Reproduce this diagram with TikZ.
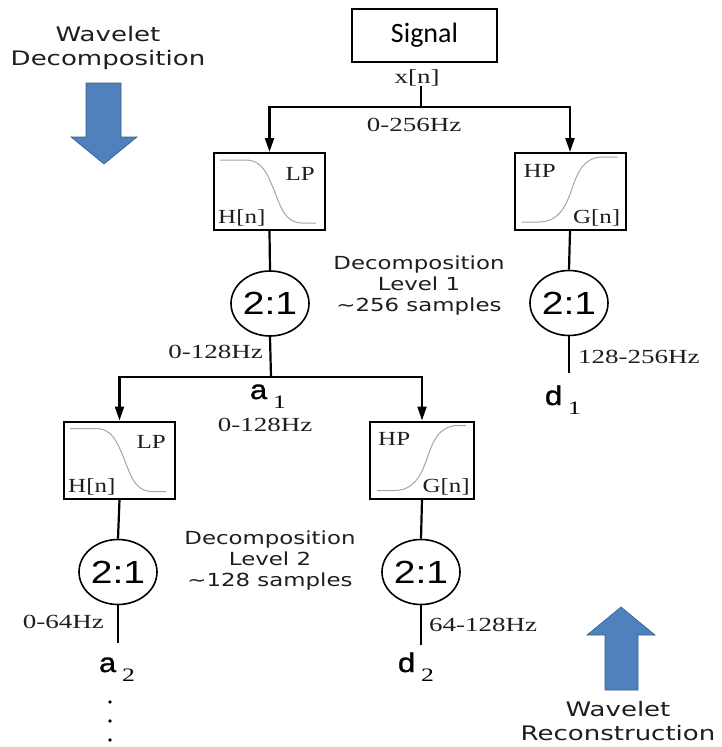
\documentclass[tikz,border=0pt]{standalone}
\usepackage{fontspec}
\usepackage{xcolor}
\usepackage{tikz}
\usetikzlibrary{shapes.geometric, arrows.meta, calc}
\setmainfont{Liberation Serif}
\newfontfamily\sigfont{Carlito}
\newfontfamily\wavefont[FakeStretch=1.3]{DejaVu Sans}
\newfontfamily\levelfont[FakeStretch=1.27]{DejaVu Sans}
\newfontfamily\ratiofont[FakeStretch=1.22]{Liberation Sans}
\newfontfamily\coeffont[FakeStretch=1.15,FakeBold=1.2]{Liberation Sans}
\newfontfamily\hzfont[FakeStretch=1.35]{Liberation Serif}
\newfontfamily\filtfont[FakeStretch=1.25]{Liberation Serif}
\definecolor{WVBlue}{RGB}{79,129,189}
\definecolor{WVBlueEdge}{RGB}{56,93,138}
\definecolor{WVCurve}{RGB}{165,165,165}
\definecolor{WVText}{RGB}{30,30,30}

\newcommand{\wvcoef}[2]{{\coeffont\fontsize{27}{30}\selectfont #1}\hspace{6pt}\raisebox{-9pt}{\hzfont\fontsize{19}{20}\selectfont #2}}

\tikzset{
  sigbox/.style={draw, line width=1.6pt, minimum width=145pt, minimum height=53pt, inner sep=0pt,
    font=\sigfont\fontsize{28}{30}\selectfont},
  filtbox/.style={draw, line width=2pt, minimum width=111pt, minimum height=77pt, inner sep=0pt},
  downsmp/.style={draw, ellipse, line width=1.6pt, minimum width=78pt, minimum height=65pt, inner sep=0pt,
    font=\ratiofont\fontsize{32}{34}\selectfont},
  hzlbl/.style={inner sep=0pt, text=WVText, font=\hzfont\fontsize{20}{22}\selectfont},
  filtlbl/.style={inner sep=0pt, text=WVText, font=\filtfont\fontsize{20}{22}\selectfont},
  levellbl/.style={inner sep=0pt, align=center, text=WVText, font=\levelfont\fontsize{18}{21}\selectfont},
  wavelbl/.style={inner sep=0pt, align=center, text=WVText, font=\wavefont\fontsize{20}{23.5}\selectfont},
  coeflbl/.style={inner sep=0pt, anchor=base},
  wire/.style={line width=2.2pt},
  feed/.style={line width=2.2pt, -{Triangle[length=14pt,width=9pt]}},
  curve/.style={WVCurve, line width=1pt},
  bigarrow/.style={fill=WVBlue, draw=WVBlueEdge, line width=0.6pt}
}

% low pass / high pass response inside a filter box
\newcommand{\lpcurve}[1]{%
  \begin{scope}[shift={(#1.north west)}]
    \draw[curve] (7,8) -- (32,8) .. controls (50,8) and (54,22) .. (61,38)
      .. controls (68,56) and (72,70) .. (88,71) -- (103,71);
  \end{scope}}
\newcommand{\hpcurve}[1]{%
  \begin{scope}[shift={(#1.north west)}]
    \draw[curve] (8,70) -- (25,70) .. controls (45,70) and (52,55) .. (58,38)
      .. controls (64,20) and (70,6) .. (88,5) -- (\pgfkeysvalueof{/wv/hpend},5);
  \end{scope}}
\pgfkeyssetvalue{/wv/hpend}{104}

\begin{document}
\begin{tikzpicture}[x=1pt,y=-1pt]
  \path[use as bounding box] (0,0) rectangle (721,747);

  % big blue arrows
  \draw[bigarrow] (86,83) -- (121,83) -- (121,137) -- (137,137) -- (104,164) -- (71,137) -- (86,137) -- cycle;
  \node[wavelbl] (wavedec) at (108,48) {Wavelet\\Decomposition};
  \draw[bigarrow] (605,690) -- (638,690) -- (638,635) -- (655,635) -- (621,607) -- (587,635) -- (605,635) -- cycle;
  \node[wavelbl] (waverec) at (618,721) {Wavelet\\Reconstruction};

  % input
  \node[sigbox] (sig) at (424.5,35.5) {Signal};
  \node[hzlbl] (xn) at (417,78) {x[n]};
  \coordinate (split0) at (421,107);
  \node[hzlbl] (hz0) at (414,125) {0-256Hz};

  % level 1
  \node[filtbox] (lp1) at (269.5,191.5) {};
  \node[filtbox] (hp1) at (570,191.5) {};
  \lpcurve{lp1}
  \hpcurve{hp1}
  \node[filtlbl, anchor=base east] (lp1t) at ($(lp1.north east)+(-11,28)$) {LP};
  \node[filtlbl, anchor=base west] (lp1h) at ($(lp1.south west)+(5,-7.5)$) {H[n]};
  \node[filtlbl, anchor=base west] (hp1t) at ($(hp1.north west)+(10,25)$) {HP};
  \node[filtlbl, anchor=base east] (hp1g) at ($(hp1.south east)+(-6,-7.5)$) {G[n]};
  \node[downsmp] (ds1) at (270,303.5) {2:1};
  \node[downsmp] (ds2) at (569,303) {2:1};
  \node[levellbl] (lev1) at (419,286) {Decomposition\\Level 1\\\char`\~256 samples};
  \node[hzlbl, anchor=east] (hz1) at (263,352) {0-128Hz};
  \coordinate (split1) at (271,377);
  \node[coeflbl] (a1) at (268,399) {\wvcoef{a}{1}};
  \node[hzlbl] (hz1b) at (265,425) {0-128Hz};
  \coordinate (d1top) at (569,373);
  \node[hzlbl, anchor=west] (hz2) at (578,357) {128-256Hz};
  \node[coeflbl] (d1) at (563,405) {\wvcoef{d}{1}};

  \draw[wire] (xn.south -| split0) -- (split0);
  \draw[feed] (split0) -| (lp1.north);
  \draw[feed] (split0) -| (hp1.north);
  \draw[wire] (lp1.south) -- (ds1.north);
  \draw[wire] (hp1.south) -- (ds2.north);
  \draw[wire] (ds1.south) -- (split1);
  \draw[wire] (ds2.south) -- (d1top);

  % level 2
  \node[filtbox] (lp2) at (119.5,460) {};
  \node[filtbox, minimum width=104pt] (hp2) at (422,460) {};
  \lpcurve{lp2}
  \pgfkeyssetvalue{/wv/hpend}{97}
  \hpcurve{hp2}
  \node[filtlbl, anchor=base east] (lp2t) at ($(lp2.north east)+(-10,28)$) {LP};
  \node[filtlbl, anchor=base west] (lp2h) at ($(lp2.south west)+(5,-7.5)$) {H[n]};
  \node[filtlbl, anchor=base west] (hp2t) at ($(hp2.north west)+(9,25)$) {HP};
  \node[filtlbl, anchor=base east] (hp2g) at ($(hp2.south east)+(-5,-7.5)$) {G[n]};
  \node[downsmp] (ds3) at (118,572) {2:1};
  \node[downsmp] (ds4) at (421,572) {2:1};
  \node[levellbl] (lev2) at (270,561) {Decomposition\\Level 2\\\char`\~128 samples};
  \node[hzlbl, anchor=east] (hz3) at (104,622) {0-64Hz};
  \node[hzlbl, anchor=west] (hz4) at (429,625) {64-128Hz};
  \coordinate (a2top) at (118,643);
  \coordinate (d2top) at (421,645);
  \node[coeflbl] (a2) at (117,672) {\wvcoef{a}{2}};
  \node[coeflbl] (d2) at (416,672) {\wvcoef{d}{2}};

  \draw[feed] (split1) -| (lp2.north);
  \draw[feed] (split1) -| (hp2.north);
  \draw[wire] (lp2.south) -- (ds3.north);
  \draw[wire] (hp2.south) -- (ds4.north);
  \draw[wire] (ds3.south) -- (a2top);
  \draw[wire] (ds4.south) -- (d2top);

  % more levels
  \foreach \dy in {702,721,740}
    \fill (110,\dy) circle (1.8);
\end{tikzpicture}
\end{document}
